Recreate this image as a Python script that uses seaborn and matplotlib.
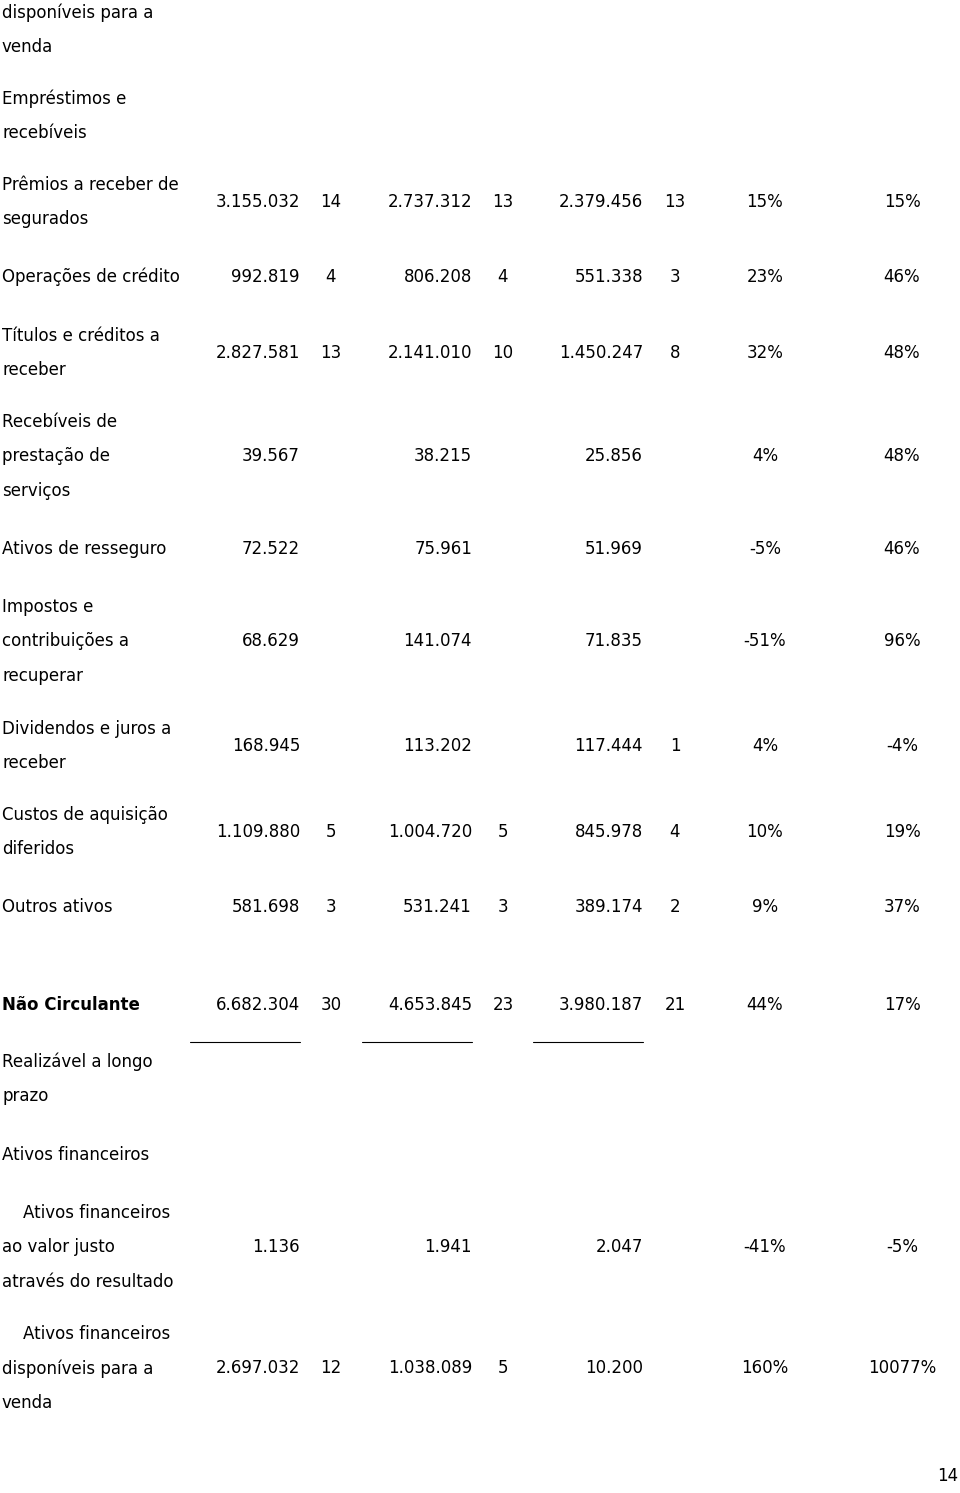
import numpy as np
import pandas as pd
import matplotlib
matplotlib.use('Agg')
import matplotlib.pyplot as plt
import seaborn as sns

sns.set_theme(style='white')
plt.rcParams['font.family'] = ['DejaVu Sans']

# table content
labels = [
    'disponíveis para a\nvenda',
    'Empréstimos e\nrecebíveis',
    'Prêmios a receber de\nsegurados',
    'Operações de crédito',
    'Títulos e créditos a\nreceber',
    'Recebíveis de\nprestação de\nserviços',
    'Ativos de resseguro',
    'Impostos e\ncontribuições a\nrecuperar',
    'Dividendos e juros a\nreceber',
    'Custos de aquisição\ndiferidos',
    'Outros ativos',
    'Não Circulante',
    'Realizável a longo\nprazo',
    'Ativos financeiros',
    '    Ativos financeiros\nao valor justo\natravés do resultado',
    '    Ativos financeiros\ndisponíveis para a\nvenda',
]
v2010 = ['', '', '3.155.032', '992.819', '2.827.581', '39.567', '72.522', '68.629',
         '168.945', '1.109.880', '581.698', '6.682.304', '', '', '1.136', '2.697.032']
s2010 = ['', '', '14', '4', '13', '', '', '', '', '5', '3', '30', '', '', '', '12']
v2009 = ['', '', '2.737.312', '806.208', '2.141.010', '38.215', '75.961', '141.074',
         '113.202', '1.004.720', '531.241', '4.653.845', '', '', '1.941', '1.038.089']
s2009 = ['', '', '13', '4', '10', '', '', '', '', '5', '3', '23', '', '', '', '5']
v2008 = ['', '', '2.379.456', '551.338', '1.450.247', '25.856', '51.969', '71.835',
         '117.444', '845.978', '389.174', '3.980.187', '', '', '2.047', '10.200']
s2008 = ['', '', '13', '3', '8', '', '', '', '1', '4', '2', '21', '', '', '', '']
var_10_09 = ['', '', '15%', '23%', '32%', '4%', '-5%', '-51%', '4%', '10%', '9%',
             '44%', '', '', '-41%', '160%']
var_09_08 = ['', '', '15%', '46%', '48%', '48%', '46%', '96%', '-4%', '19%', '37%',
             '17%', '', '', '-5%', '10077%']
bold_rows = ['Não Circulante']
page_number = '14'

df = pd.DataFrame({'label': labels, 'v2010': v2010, 's2010': s2010,
                   'v2009': v2009, 's2009': s2009, 'v2008': v2008,
                   's2008': s2008, 'var1': var_10_09, 'var2': var_09_08})

# layout (pixels)
W, H = 960, 1493
line_h = 34.3
row_top = [13, 99, 185, 277, 336, 422, 549, 607, 729, 815, 907, 1005, 1062, 1155, 1213, 1334]
cols = [('v2010', 300, 'right'), ('s2010', 331, 'center'),
        ('v2009', 472, 'right'), ('s2009', 503, 'center'),
        ('v2008', 643, 'right'), ('s2008', 675, 'center'),
        ('var1', 765, 'center'), ('var2', 902, 'center')]
fs = 12

fig = plt.figure(figsize=(W / 100, H / 100), dpi=100)
ax = fig.add_axes([0, 0, 1, 1])
ax.set_xlim(0, W)
ax.set_ylim(H, 0)
ax.axis('off')

for i, row in df.iterrows():
    lines = row['label'].split('\n')
    y0 = row_top[i]
    weight = 'bold' if row['label'] in bold_rows else 'normal'
    for k, ln in enumerate(lines):
        ax.text(2, y0 + k * line_h, ln, ha='left', va='center',
                fontsize=fs, fontweight=weight, color='black')
    yc = y0 + (len(lines) - 1) * line_h / 2
    for col, x, ha in cols:
        if row[col]:
            ax.text(x, yc, row[col], ha=ha, va='center', fontsize=fs, color='black')
    if row['label'] in bold_rows:
        # underline under the three value columns
        for col, x, ha in cols[:6:2]:
            ax.plot([x - 110, x], [yc + 37, yc + 37], color='black', lw=0.8)

ax.text(958, 1476, page_number, ha='right', va='center', fontsize=fs, color='black')

fig.savefig('out.png', dpi=100, facecolor='white')
